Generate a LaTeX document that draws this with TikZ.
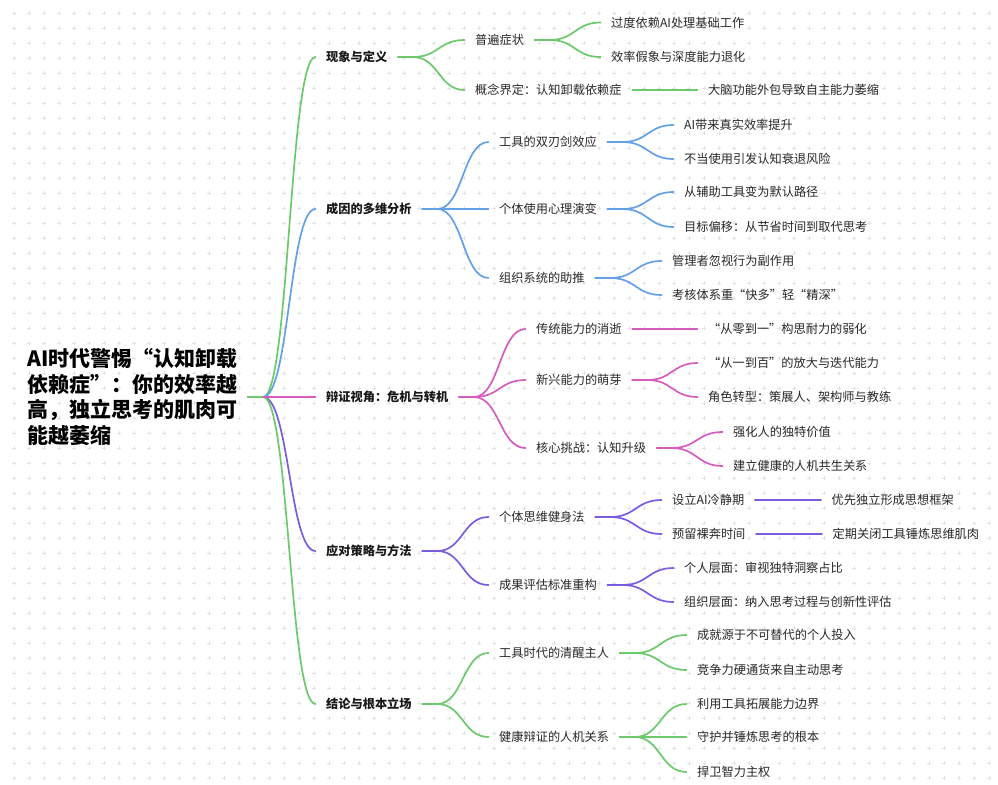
\documentclass[tikz,border=0pt]{standalone}
\usepackage{fontspec}
\setmainfont{Noto Sans CJK SC}
\newfontfamily\mmqfont{Noto Sans CJK SC}[RawFeature=+fwid]
\newcommand\mmoq{{\mmqfont “}}
\newcommand\mmcq{{\mmqfont ”}}
\usetikzlibrary{calc}
\definecolor{mgreen}{RGB}{108,201,108}
\definecolor{mblue}{RGB}{99,160,232}
\definecolor{mpink}{RGB}{214,92,190}
\definecolor{mpurple}{RGB}{122,92,222}
\definecolor{mtext}{RGB}{40,40,40}
\tikzset{
  lvl/.style={anchor=west,inner xsep=10.5pt,inner ysep=0pt,text=mtext,font=\fontsize{12.2}{14}\selectfont},
  lvlone/.style={lvl,font=\fontsize{12.2}{14}\selectfont\bfseries,text=black!90},
  rootbox/.style={anchor=west,inner xsep=10.5pt,inner ysep=0pt,align=left,text=black,font=\fontsize{21}{25.5}\selectfont\bfseries},
  lk/.style={line width=1.7pt,line cap=round}
}
\newcommand\mmlink[3]{%
  \path (#2.east) ++(15,0) coordinate (mmS);
  \path ($(mmS)!0.5!(#3.west)$) coordinate (mmM);
  \draw[lk,#1] (#2.east) -- (mmS) .. controls (mmM |- mmS) and (mmM |- #3.west) .. (#3.west);}
\begin{document}
\begin{tikzpicture}[x=1pt,y=-1pt]
\fill[white] (0,0) rectangle (998,784);
\useasboundingbox (0,0) rectangle (998,784);
\draw[black!11,line width=0.6pt] \foreach \i in {0,...,65} { \foreach \j in {0,...,51} {
  ({14+15*\i-2},{13+15*\j}) -- ({14+15*\i+2},{13+15*\j})
  ({14+15*\i},{13+15*\j-2}) -- ({14+15*\i},{13+15*\j+2}) } };

% root
\node[rootbox] (root) at (16.5,397) {AI时代警惕\mmoq 认知卸载\\依赖症\mmcq ：你的效率越\\高，独立思考的肌肉可\\能越萎缩};

% level 1
\node[lvlone] (a) at (315.5,57) {现象与定义};
\node[lvlone] (b) at (315.5,209) {成因的多维分析};
\node[lvlone] (c) at (315.5,397) {辩证视角：危机与转机};
\node[lvlone] (d) at (315.5,551) {应对策略与方法};
\node[lvlone] (e) at (315.5,704) {结论与根本立场};

% branch a
\node[lvl] (a1) at (464.5,40) {普遍症状};
\node[lvl] (a2) at (464.5,90) {概念界定：认知卸载依赖症};
\node[lvl] (a11) at (600.5,22.5) {过度依赖AI处理基础工作};
\node[lvl] (a12) at (600.5,57) {效率假象与深度能力退化};
\node[lvl] (a21) at (697.5,90) {大脑功能外包导致自主能力萎缩};

% branch b
\node[lvl] (b1) at (488.5,142) {工具的双刃剑效应};
\node[lvl] (b2) at (488.5,209) {个体使用心理演变};
\node[lvl] (b3) at (488.5,278) {组织系统的助推};
\node[lvl] (b11) at (673.5,125) {AI带来真实效率提升};
\node[lvl] (b12) at (673.5,159) {不当使用引发认知衰退风险};
\node[lvl] (b21) at (673.5,192) {从辅助工具变为默认路径};
\node[lvl] (b22) at (673.5,227) {目标偏移：从节省时间到取代思考};
\node[lvl] (b31) at (661.5,261) {管理者忽视行为副作用};
\node[lvl] (b32) at (661.5,295) {考核体系重\mmoq 快多\mmcq 轻\mmoq 精深\mmcq};

% branch c
\node[lvl] (c1) at (525.5,329) {传统能力的消逝};
\node[lvl] (c2) at (525.5,380) {新兴能力的萌芽};
\node[lvl] (c3) at (525.5,448) {核心挑战：认知升级};
\node[lvl] (c11) at (697.5,329) {\mmoq 从零到一\mmcq 构思耐力的弱化};
\node[lvl] (c21) at (697.5,363) {\mmoq 从一到百\mmcq 的放大与迭代能力};
\node[lvl] (c22) at (697.5,397) {角色转型：策展人、架构师与教练};
\node[lvl] (c31) at (722.5,432) {强化人的独特价值};
\node[lvl] (c32) at (722.5,466) {建立健康的人机共生关系};

% branch d
\node[lvl] (d1) at (488.5,517) {个体思维健身法};
\node[lvl] (d2) at (488.5,585) {成果评估标准重构};
\node[lvl] (d11) at (661.5,500) {设立AI冷静期};
\node[lvl] (d12) at (661.5,534) {预留裸奔时间};
\node[lvl] (d111) at (821,500) {优先独立形成思想框架};
\node[lvl] (d121) at (822,534) {定期关闭工具锤炼思维肌肉};
\node[lvl] (d21) at (673.5,568) {个人层面：审视独特洞察占比};
\node[lvl] (d22) at (673.5,602) {组织层面：纳入思考过程与创新性评估};

% branch e
\node[lvl] (e1) at (488.5,653) {工具时代的清醒主人};
\node[lvl] (e2) at (488.5,737) {健康辩证的人机关系};
\node[lvl] (e11) at (686.5,635) {成就源于不可替代的个人投入};
\node[lvl] (e12) at (686.5,670) {竞争力硬通货来自主动思考};
\node[lvl] (e21) at (686.5,704) {利用工具拓展能力边界};
\node[lvl] (e22) at (686.5,737) {守护并锤炼思考的根本};
\node[lvl] (e23) at (686.5,772) {捍卫智力主权};

% links
\mmlink{mgreen}{root}{a}
\mmlink{mblue}{root}{b}
\mmlink{mpurple}{root}{d}
\mmlink{mgreen}{root}{e}
\mmlink{mpink}{root}{c}
\draw[lk,mgreen] (root.east) -- ++(14,0);

\mmlink{mgreen}{a}{a1}
\mmlink{mgreen}{a}{a2}
\mmlink{mgreen}{a1}{a11}
\mmlink{mgreen}{a1}{a12}
\mmlink{mgreen}{a2}{a21}

\mmlink{mblue}{b}{b1}
\mmlink{mblue}{b}{b2}
\mmlink{mblue}{b}{b3}
\mmlink{mblue}{b1}{b11}
\mmlink{mblue}{b1}{b12}
\mmlink{mblue}{b2}{b21}
\mmlink{mblue}{b2}{b22}
\mmlink{mblue}{b3}{b31}
\mmlink{mblue}{b3}{b32}

\mmlink{mpink}{c}{c1}
\mmlink{mpink}{c}{c2}
\mmlink{mpink}{c}{c3}
\mmlink{mpink}{c1}{c11}
\mmlink{mpink}{c2}{c21}
\mmlink{mpink}{c2}{c22}
\mmlink{mpink}{c3}{c31}
\mmlink{mpink}{c3}{c32}

\mmlink{mpurple}{d}{d1}
\mmlink{mpurple}{d}{d2}
\mmlink{mpurple}{d1}{d11}
\mmlink{mpurple}{d1}{d12}
\mmlink{mpurple}{d11}{d111}
\mmlink{mpurple}{d12}{d121}
\mmlink{mpurple}{d2}{d21}
\mmlink{mpurple}{d2}{d22}

\mmlink{mgreen}{e}{e1}
\mmlink{mgreen}{e}{e2}
\mmlink{mgreen}{e1}{e11}
\mmlink{mgreen}{e1}{e12}
\mmlink{mgreen}{e2}{e21}
\mmlink{mgreen}{e2}{e22}
\mmlink{mgreen}{e2}{e23}
\end{tikzpicture}
\end{document}
